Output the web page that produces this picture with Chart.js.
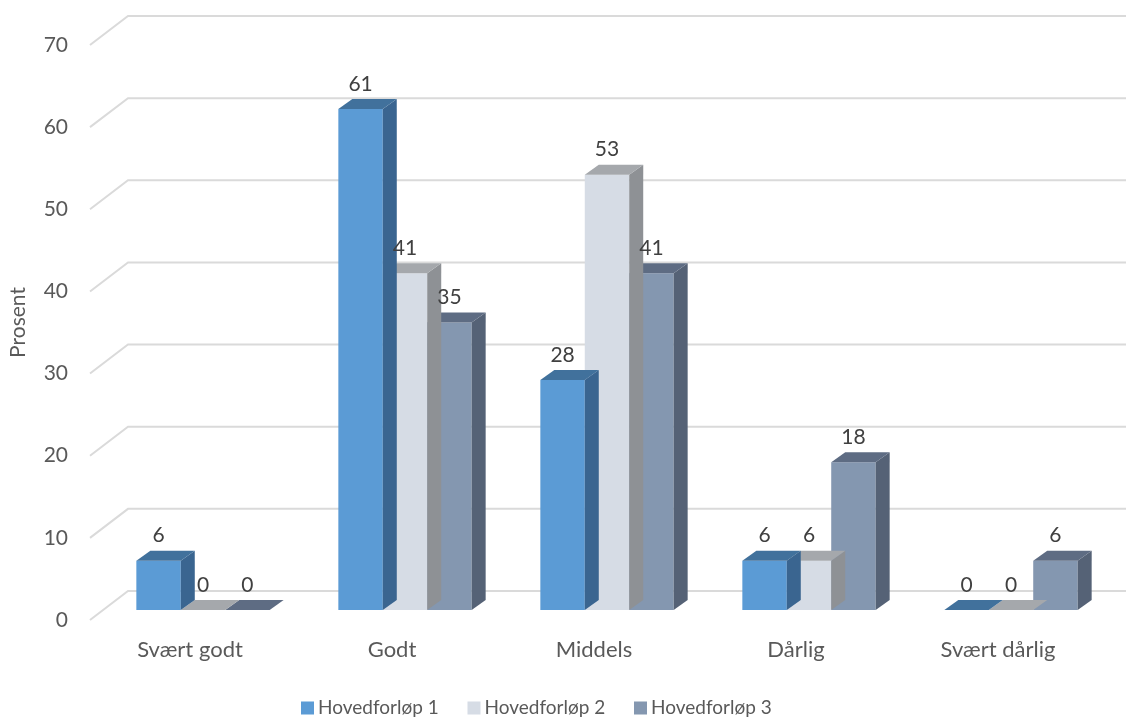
<!DOCTYPE html>
<html>
<head>
<meta charset="utf-8">
<script src="https://cdn.jsdelivr.net/npm/chart.js@4/dist/chart.umd.min.js"></script>
<style>
  html, body { margin: 0; padding: 0; background: #fff; }
  #wrap { width: 1126px; height: 718px; }
</style>
</head>
<body>
<div id="wrap"><canvas id="chart" width="1126" height="718"></canvas></div>
<script>
// categories and values (percent)
const categories = ['Svært godt', 'Godt', 'Middels', 'Dårlig', 'Svært dårlig'];
const seriesNames = ['Hovedforløp 1', 'Hovedforløp 2', 'Hovedforløp 3'];
const forlop1 = [6, 61, 28, 6, 0];
const forlop2 = [0, 41, 53, 6, 0];
const forlop3 = [0, 35, 41, 18, 6];
const yTicks = [0, 10, 20, 30, 40, 50, 60, 70];

// front / top / side shades for each series
const frontColors = ['#5b9bd5', '#d6dce5', '#8497b0'];
const topColors = ['#41719c', '#a5a8ac', '#5e6c83'];
const sideColors = ['#3a6590', '#8e9195', '#556276'];

const FONT = 'Lato, "Open Sans", sans-serif';
const DEPTH_X = 14, DEPTH_Y = -10;

function poly(ctx, pts, color) {
    ctx.beginPath();
    ctx.moveTo(pts[0][0], pts[0][1]);
    for (let i = 1; i < pts.length; i++) ctx.lineTo(pts[i][0], pts[i][1]);
    ctx.closePath();
    ctx.fillStyle = color;
    ctx.fill();
}

// back wall gridlines with the little diagonal towards the tick labels
const wallGrid = {
    id: 'wallGrid',
    beforeDatasetsDraw(chart) {
        const ctx = chart.ctx;
        const y = chart.scales.y;
        ctx.save();
        ctx.strokeStyle = '#dadada';
        ctx.lineWidth = 2;
        yTicks.forEach(v => {
            const py = y.getPixelForValue(v);
            ctx.beginPath();
            ctx.moveTo(90, py + 10);
            ctx.lineTo(128, py - 19);
            ctx.lineTo(chart.width, py - 19);
            ctx.stroke();
        });
        ctx.restore();
    }
};

// top and side faces so the bars look like boxes
const boxFaces = {
    id: 'boxFaces',
    afterDatasetDraw(chart, args) {
        const ctx = chart.ctx;
        const i = args.index;
        ctx.save();
        args.meta.data.forEach(bar => {
            const p = bar.getProps(['x', 'y', 'base', 'width'], true);
            const l = p.x - p.width / 2, r = p.x + p.width / 2;
            const t = p.y, b = p.base;
            if (b - t > 0.5) {
                poly(ctx, [[r, t], [r + DEPTH_X, t + DEPTH_Y], [r + DEPTH_X, b + DEPTH_Y], [r, b]], sideColors[i]);
            }
            poly(ctx, [[l, t], [l + DEPTH_X, t + DEPTH_Y], [r + DEPTH_X, t + DEPTH_Y], [r, t]], topColors[i]);
        });
        ctx.restore();
    },
    afterDatasetsDraw(chart) {
        const ctx = chart.ctx;
        ctx.save();
        ctx.font = '21px ' + FONT;
        ctx.fillStyle = '#404040';
        ctx.textAlign = 'center';
        ctx.textBaseline = 'middle';
        chart.data.datasets.forEach((ds, i) => {
            chart.getDatasetMeta(i).data.forEach((bar, j) => {
                ctx.fillText(String(ds.data[j]), bar.x, bar.y - 25);
            });
        });
        ctx.restore();
    }
};

// legend under the chart
const bottomLegend = {
    id: 'bottomLegend',
    afterDraw(chart) {
        const ctx = chart.ctx;
        ctx.save();
        ctx.font = '19px ' + FONT;
        ctx.textBaseline = 'middle';
        ctx.textAlign = 'left';
        let x = 301;
        const cy = 708;
        seriesNames.forEach((name, i) => {
            ctx.fillStyle = frontColors[i];
            ctx.fillRect(x, cy - 6.5, 13, 13);
            ctx.fillStyle = '#595959';
            ctx.fillText(name, x + 17, cy);
            x += 166.5;
        });
        ctx.restore();
    }
};

const ctx = document.getElementById('chart').getContext('2d');
const myChart = new Chart(ctx, {
    type: 'bar',
    data: {
        labels: categories,
        datasets: [
            { label: seriesNames[0], data: forlop1, backgroundColor: frontColors[0] },
            { label: seriesNames[1], data: forlop2, backgroundColor: frontColors[1] },
            { label: seriesNames[2], data: forlop3, backgroundColor: frontColors[2] }
        ]
    },
    options: {
        responsive: false,
        animation: false,
        events: [],
        categoryPercentage: 0.66,
        barPercentage: 1.0,
        layout: { padding: { top: 35, right: 14, bottom: 0, left: 0 } },
        plugins: {
            legend: { display: false },
            tooltip: { enabled: false }
        },
        scales: {
            x: {
                grid: { display: false, drawTicks: false },
                border: { display: false },
                ticks: {
                    color: '#595959',
                    font: { family: FONT, size: 22 },
                    padding: 27,
                    labelOffset: -13,
                    maxRotation: 0
                },
                afterFit(scale) { scale.height = 108; }
            },
            y: {
                min: 0,
                max: 70,
                grid: { display: false, drawTicks: false },
                border: { display: false },
                ticks: {
                    stepSize: 10,
                    color: '#595959',
                    font: { family: FONT, size: 21 },
                    padding: 34,
                    labelOffset: 10
                },
                title: {
                    display: true,
                    text: 'Prosent',
                    color: '#595959',
                    font: { family: FONT, size: 21 },
                    padding: { top: 6, bottom: 0 }
                },
                afterFit(scale) {
                    scale.width = 102;
                    // tick padding would otherwise push the plot area down
                    scale.paddingTop = 0;
                    scale.paddingBottom = 0;
                }
            }
        }
    },
    plugins: [wallGrid, boxFaces, bottomLegend]
});
</script>
</body>
</html>
